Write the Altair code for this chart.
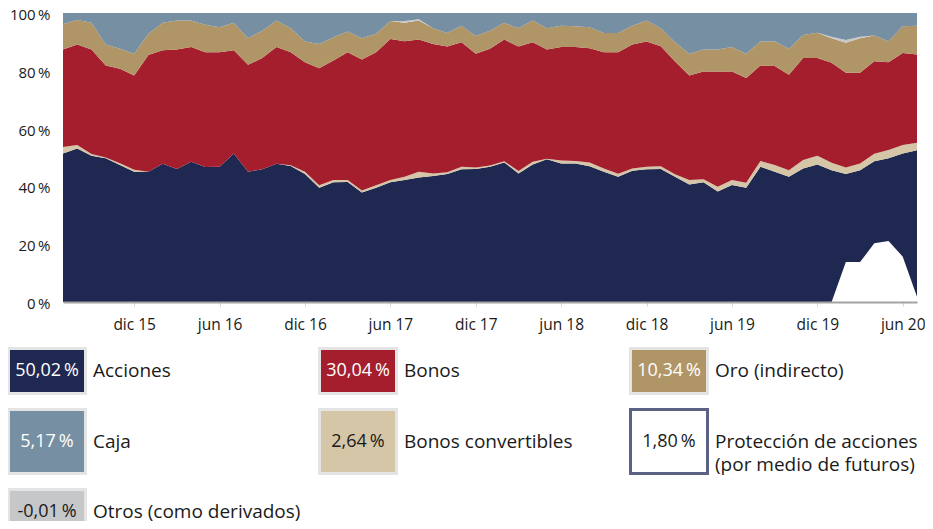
import altair as alt
import pandas as pd

# ---------------- data (% of portfolio) ----------------
series_names = ["Acciones", "Bonos convertibles", "Bonos", "Oro (indirecto)",
                "Otros (como derivados)", "Caja"]
series_colors = ["#1f2850", "#d4c6a6", "#a51e2e", "#b09566", "#c6c7c9", "#778fa3"]

acciones = [51.4, 53.1, 50.6, 49.7, 47.4, 45.1, 45.1, 47.8, 46.0, 48.5,
            46.7, 46.8, 51.4, 45.1, 45.9, 47.8, 47.1, 44.3, 39.5, 41.4,
            41.5, 37.9, 39.5, 41.4, 42.2, 43.1, 43.6, 44.3, 45.9, 46.0,
            46.8, 48.3, 44.5, 47.6, 49.4, 47.9, 47.9, 47.0, 45.1, 43.3,
            45.4, 45.9, 46.0, 43.3, 40.7, 41.4, 38.2, 40.5, 39.5, 46.8,
            45.1, 43.3, 46.2, 47.6, 45.6, 44.3, 45.6, 48.7, 49.7, 51.4,
            52.5]
convertibles = [2.2, 1.2, 0.6, 0.3, 0.6, 0.7, 0.0, 0.0, 0.0, 0.0,
                0.0, 0.0, 0.0, 0.0, 0.0, 0.0, 0.2, 0.8, 0.9, 0.8,
                0.7, 0.7, 0.9, 0.8, 1.1, 2.0, 0.9, 0.6, 0.9, 0.5,
                0.4, 0.4, 0.8, 0.9, 0.2, 1.1, 0.9, 1.3, 1.1, 1.1,
                0.8, 0.9, 1.0, 0.9, 1.5, 1.1, 1.7, 1.7, 1.8, 2.0,
                2.3, 2.3, 2.9, 3.0, 2.6, 2.2, 2.3, 2.6, 2.9, 2.9,
                2.6]
bonos = [33.8, 34.8, 36.2, 31.8, 32.7, 32.6, 40.4, 39.3, 41.4, 39.7,
         39.7, 39.6, 35.7, 37.0, 38.5, 40.4, 39.1, 37.9, 40.5, 41.4,
         44.2, 45.3, 46.0, 48.8, 46.9, 45.7, 44.8, 43.5, 43.1, 39.4,
         40.4, 42.1, 43.1, 41.4, 37.8, 39.2, 39.4, 39.5, 40.2, 42.0,
         42.9, 43.3, 41.5, 39.0, 36.2, 37.3, 39.9, 37.6, 36.2, 33.0,
         34.3, 33.0, 35.3, 33.8, 34.6, 32.8, 31.4, 32.0, 30.4, 31.9,
         30.5]
oro = [8.8, 8.5, 9.2, 7.3, 6.9, 7.5, 7.3, 9.5, 10.0, 9.2,
       9.5, 8.7, 9.5, 9.2, 9.5, 9.2, 8.3, 7.1, 8.4, 8.0,
       7.2, 7.4, 6.4, 6.2, 6.4, 6.6, 5.4, 4.7, 5.7, 6.1,
       6.3, 5.8, 6.3, 7.5, 7.3, 7.4, 7.2, 7.3, 6.7, 6.7,
       6.5, 7.3, 6.2, 6.7, 7.5, 7.6, 7.6, 8.4, 8.4, 8.3,
       8.5, 9.0, 8.0, 8.8, 8.5, 10.4, 12.0, 8.9, 7.2, 9.2,
       10.0]
otros = [0.0, 0.0, 0.0, 0.0, 0.0, 0.0, 0.0, 0.0, 0.0, 0.0,
         0.0, 0.0, 0.0, 0.0, 0.0, 0.0, 0.0, 0.0, 0.0, 0.0,
         0.0, 0.0, 0.0, 0.0, 0.6, 0.4, 0.0, 0.0, 0.0, 0.0,
         0.0, 0.0, 0.0, 0.0, 0.0, 0.0, 0.0, 0.0, 0.0, 0.0,
         0.0, 0.0, 0.0, 0.0, 0.0, 0.0, 0.0, 0.0, 0.0, 0.0,
         0.0, 0.0, 0.0, 0.0, 0.5, 1.0, 0.5, 0.0, 0.0, 0.0,
         0.0]
caja = [3.8, 2.4, 3.4, 10.9, 12.4, 14.1, 7.2, 3.4, 2.6, 2.6,
        4.1, 4.9, 3.4, 8.7, 6.1, 2.6, 5.3, 9.9, 10.7, 8.4,
        6.4, 8.7, 7.2, 2.8, 2.8, 2.2, 5.3, 6.9, 4.4, 8.0,
        6.1, 3.4, 5.3, 2.6, 5.3, 4.4, 4.6, 4.9, 6.9, 6.9,
        4.4, 2.6, 5.3, 10.1, 14.1, 12.6, 12.6, 11.8, 14.1, 9.9,
        9.8, 12.4, 7.6, 6.8, 8.2, 9.3, 8.2, 7.8, 9.8, 4.6,
        4.4]
proteccion = [0.0] * 54 + [0.0, 13.8, 13.8, 20.3, 21.1, 15.7, 1.8]

series_values = [acciones, convertibles, bonos, oro, otros, caja]

tick_labels = ["dic 15", "jun 16", "dic 16", "jun 17", "dic 17",
               "jun 18", "dic 18", "jun 19", "dic 19", "jun 20"]
y_ticks = [0, 20, 40, 60, 80, 100]

legend_labels = ["Acciones", "Bonos", "Oro (indirecto)",
                 "Caja", "Bonos convertibles",
                 "Protección de acciones\n(por medio de futuros)",
                 "Otros (como derivados)"]
legend_values = ["50,02\u2009%", "30,04\u2009%", "10,34\u2009%",
                 "5,17\u2009%", "2,64\u2009%", "1,80\u2009%", "-0,01\u2009%"]
legend_fill = ["#1f2850", "#a51e2e", "#b09566", "#778fa3", "#d4c6a6", "#ffffff", "#c6c7c9"]
legend_text_color = ["#ffffff", "#ffffff", "#ffffff", "#ffffff", "#1a1a1a", "#1a1a1a", "#1a1a1a"]
legend_stroke = ["#e4e4e4", "#e4e4e4", "#e4e4e4", "#e4e4e4", "#e4e4e4", "#5b6283", "#e4e4e4"]
legend_stroke_w = [3, 3, 3, 3, 3, 3, 3]

# ---------------- tables ----------------
month_abbr = ["ene", "feb", "mar", "abr", "may", "jun", "jul", "ago", "sep", "oct", "nov", "dic"]
dates = pd.date_range("2015-07-01", periods=len(acciones), freq="MS")
month_labels = [f"{month_abbr[d.month - 1]} {d.year % 100:02d}" for d in dates]
tick_pos = [month_labels.index(t) for t in tick_labels]

rows = []
for k, (name, vals) in enumerate(zip(series_names, series_values)):
    for i, v in enumerate(vals):
        rows.append({"idx": i, "mes": month_labels[i], "serie": name, "value": v, "ord": k})
for i, v in enumerate(proteccion):
    rows.append({"idx": i, "mes": month_labels[i], "serie": "Protección", "value": v, "ord": 99})
df = pd.DataFrame(rows)

leg = pd.DataFrame({
    "label": legend_labels, "val": legend_values, "fc": legend_fill,
    "tc": legend_text_color, "sc": legend_stroke, "sw": legend_stroke_w,
    "col": [k % 3 for k in range(len(legend_labels))],
    "row": [k // 3 for k in range(len(legend_labels))],
})

FONT = "Open Sans"
TXT = "#1a1a1a"

label_expr = ("[" + ",".join(f"'{t}'" for t in tick_labels) + "][indexof(["
              + ",".join(str(p) for p in tick_pos) + "], datum.value)]")

x_axis = alt.Axis(values=tick_pos, labelExpr=label_expr, grid=False, title=None,
                  domainColor="#a3a3a3", domainWidth=2, tickColor="#d6d6d6",
                  tickSize=4, tickWidth=1, labelPadding=11, labelFontSize=15.5,
                  labelColor=TXT, labelFont=FONT, zindex=1)
y_axis = alt.Axis(values=y_ticks, labelExpr="datum.value + '\u2009%'", grid=False,
                  domain=False, ticks=False, labelPadding=13, labelFontSize=15,
                  labelOffset=1.5, labelColor=TXT, labelFont=FONT, title=None)

x_enc = alt.X("idx:Q", scale=alt.Scale(domain=[0, len(acciones) - 1], nice=False, zero=False),
              axis=x_axis)
y_scale = alt.Scale(domain=[0, 100], nice=False)

areas = alt.Chart(df).transform_filter("datum.serie != 'Protección'").mark_area(
    interpolate="linear", opacity=1
).encode(
    x=x_enc,
    y=alt.Y("value:Q", stack="zero", scale=y_scale, axis=y_axis),
    color=alt.Color("serie:N", scale=alt.Scale(domain=series_names, range=series_colors),
                    legend=None),
    order=alt.Order("ord:Q", sort="ascending"),
)

prot = alt.Chart(df).transform_filter("datum.serie == 'Protección'").mark_area(
    interpolate="linear", color="white", opacity=1
).encode(
    x=x_enc,
    y=alt.Y("value:Q", stack=None, scale=y_scale, axis=y_axis),
)

# ---------------- legend (boxes placed on their own column / row scales) ----------------
lx = alt.Scale(domain=[0, 1], range=[-54.5, 256.5])
ly = alt.Scale(domain=[0, 1], range=[358, 428.5])

leg_base = alt.Chart(leg).transform_calculate(
    x0="datum.col",
    x1="datum.col + 0.2476",
    xc="datum.col + 0.1238",
    xl="datum.col + 0.2717",
    h="datum.row == 1 ? 0.454 : 0.319",
).transform_calculate(
    y0="datum.row - datum.h",
    y1="datum.row + datum.h",
)

rects = leg_base.mark_rect().encode(
    x=alt.X("x0:Q", scale=lx, axis=None),
    x2="x1:Q",
    y=alt.Y("y0:Q", scale=ly, axis=None),
    y2="y1:Q",
    fill=alt.Fill("fc:N", scale=None),
    stroke=alt.Stroke("sc:N", scale=None),
    strokeWidth=alt.StrokeWidth("sw:Q", scale=None),
)
vals = leg_base.mark_text(align="center", baseline="middle", fontSize=18, font=FONT).encode(
    x=alt.X("xc:Q", scale=lx, axis=None),
    y=alt.Y("row:Q", scale=ly, axis=None),
    text="val:N",
    color=alt.Color("tc:N", scale=None),
)
labels = leg_base.mark_text(align="left", baseline="middle", fontSize=19, font=FONT,
                            lineBreak="\n", lineHeight=23, color=TXT).encode(
    x=alt.X("xl:Q", scale=lx, axis=None),
    y=alt.Y("row:Q", scale=ly, axis=None),
    text="label:N",
)

chart = alt.layer(
    alt.layer(areas, prot),
    alt.layer(rects, vals, labels),
).resolve_scale(
    x="independent", y="independent", color="independent"
).properties(
    width=854, height=289,
    padding={"left": 55, "top": 5, "right": 8, "bottom": 219},
    autosize=alt.AutoSizeParams(type="none"),
    background="white",
).configure_view(stroke=None)

chart.save("out.html", embed_options={"renderer": "svg", "actions": False})
